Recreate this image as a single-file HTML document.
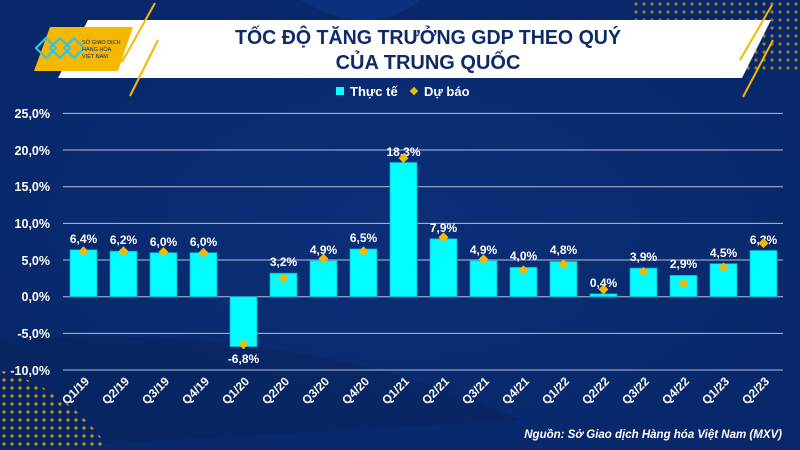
<!DOCTYPE html>
<html><head><meta charset="utf-8"><style>
html,body{margin:0;padding:0;width:800px;height:450px;overflow:hidden;background:#0a2a6e}
svg{display:block;font-family:"Liberation Sans",sans-serif}
</style></head><body>
<svg width="800" height="450" viewBox="0 0 800 450" xmlns="http://www.w3.org/2000/svg">
<defs>
<radialGradient id="bg" cx="0.5" cy="0.5" r="0.8"><stop offset="0" stop-color="#0b2f78"/><stop offset="1" stop-color="#082566"/></radialGradient>
<pattern id="dots" width="8" height="8" patternUnits="userSpaceOnUse"><circle cx="4" cy="4" r="1.6" fill="#f5b800"/></pattern>
</defs>
<rect width="800" height="450" fill="url(#bg)"/>
<path d="M0 340 Q300 320 520 420 L0 450Z" fill="#07215a" opacity="0.5"/>
<path d="M0 370 L0 450 L110 450 Q70 390 0 370Z" fill="url(#dots)" opacity="0.8"/>
<path d="M300 0 Q370 40 420 0Z" fill="#0d3a8c" opacity="0.5"/>
<rect x="630" y="0" width="170" height="70" fill="url(#dots)" opacity="0.6"/>
<!-- banner -->
<polygon points="88,20 771,20 742,78 58,78" fill="#ffffff"/>
<polygon points="50,27 133,27 118,71 34,71" fill="#f5b800"/>
<g fill="none" stroke="#2fc4e8" stroke-width="2.2">
<path d="M36 48 L46 38 L56 48 L46 58Z"/><path d="M50 48 L60 38 L70 48 L60 58Z"/><path d="M64 48 L74 38 L84 48 L74 58Z"/>
</g>
<text x="82" y="44" font-size="5.5" fill="#0a2a6e">SỞ GIAO DỊCH</text>
<text x="82" y="51" font-size="5.5" fill="#0a2a6e">HÀNG HÓA</text>
<text x="82" y="58" font-size="5.5" fill="#0a2a6e">VIỆT NAM</text>
<g stroke="#f5b800" stroke-width="2"><line x1="155" y1="3" x2="122" y2="62"/><line x1="158" y1="40" x2="130" y2="96"/><line x1="772" y1="5" x2="740" y2="60"/><line x1="773" y1="40" x2="743" y2="97"/></g>
<g font-weight="bold" font-size="20" fill="#0d2a6b" text-anchor="middle">
<text x="428" y="44" textLength="386" lengthAdjust="spacingAndGlyphs">TỐC ĐỘ TĂNG TRƯỞNG GDP THEO QUÝ</text>
<text x="428" y="69">CỦA TRUNG QUỐC</text>
</g>
<!-- legend -->
<rect x="336" y="87" width="8" height="8" fill="#00ffff"/>
<text x="350" y="96" font-size="13" font-weight="bold" fill="#fff">Thực tế</text>
<rect x="411" y="88" width="6" height="6" fill="#f5b800" transform="rotate(45 414 91)"/>
<text x="424" y="96" font-size="13" font-weight="bold" fill="#fff">Dự báo</text>
<!-- grid -->
<g stroke="#b8bfd0" stroke-width="1">
<line x1="63" y1="113.4" x2="783" y2="113.4"/><line x1="63" y1="150" x2="783" y2="150"/><line x1="63" y1="186.7" x2="783" y2="186.7"/><line x1="63" y1="223.4" x2="783" y2="223.4"/><line x1="63" y1="260" x2="783" y2="260"/><line x1="63" y1="296.7" x2="783" y2="296.7"/><line x1="63" y1="333.4" x2="783" y2="333.4"/><line x1="63" y1="370" x2="783" y2="370"/>
</g>
<g font-size="12.5" font-weight="bold" fill="#fff" text-anchor="end">
<text x="50" y="118">25,0%</text><text x="50" y="155">20,0%</text><text x="50" y="191">15,0%</text><text x="50" y="228">10,0%</text><text x="50" y="265">5,0%</text><text x="50" y="301">0,0%</text><text x="50" y="338">-5,0%</text><text x="50" y="375">-10,0%</text>
</g>
<!-- bars -->
<g fill="#00ffff" stroke="#0aa8c8" stroke-width="0.8">
<rect x="70" y="249.8" width="27" height="46.9"/>
<rect x="110" y="251.2" width="27" height="45.5"/>
<rect x="150" y="252.7" width="27" height="44"/>
<rect x="190" y="252.7" width="27" height="44"/>
<rect x="230" y="296.7" width="27" height="49.9"/>
<rect x="270" y="273.2" width="27" height="23.5"/>
<rect x="310" y="260.8" width="27" height="35.9"/>
<rect x="350" y="249" width="27" height="47.7"/>
<rect x="390" y="162.5" width="27" height="134.2"/>
<rect x="430" y="238.8" width="27" height="57.9"/>
<rect x="470" y="260.8" width="27" height="35.9"/>
<rect x="510" y="267.4" width="27" height="29.3"/>
<rect x="550" y="261.5" width="27" height="35.2"/>
<rect x="590" y="293.8" width="27" height="2.9"/>
<rect x="630" y="268.1" width="27" height="28.6"/>
<rect x="670" y="275.4" width="27" height="21.3"/>
<rect x="710" y="263.7" width="27" height="33"/>
<rect x="750" y="250.5" width="27" height="46.2"/>
</g>
<!-- labels -->
<g font-size="12" font-weight="bold" fill="#fff" text-anchor="middle">
<text x="83.5" y="243">6,4%</text><text x="123.5" y="244">6,2%</text><text x="163.5" y="246">6,0%</text><text x="203.5" y="246">6,0%</text>
<text x="243.5" y="363">-6,8%</text><text x="283.5" y="266">3,2%</text><text x="323.5" y="254">4,9%</text><text x="363.5" y="242">6,5%</text>
<text x="403.5" y="156">18,3%</text><text x="443.5" y="232">7,9%</text><text x="483.5" y="254">4,9%</text><text x="523.5" y="260">4,0%</text>
<text x="563.5" y="254">4,8%</text><text x="603.5" y="287">0,4%</text><text x="643.5" y="261">3,9%</text><text x="683.5" y="268">2,9%</text>
<text x="723.5" y="257">4,5%</text><text x="763.5" y="244">6,3%</text>
</g>
<!-- diamonds -->
<g fill="#f5b800">
<rect x="-3.5" y="-3.5" width="7" height="7" transform="translate(83.5 251.2) rotate(45)"/>
<rect x="-3.5" y="-3.5" width="7" height="7" transform="translate(123.5 251.2) rotate(45)"/>
<rect x="-3.5" y="-3.5" width="7" height="7" transform="translate(163.5 252) rotate(45)"/>
<rect x="-3.5" y="-3.5" width="7" height="7" transform="translate(203.5 252.7) rotate(45)"/>
<rect x="-3.5" y="-3.5" width="7" height="7" transform="translate(243.5 344.4) rotate(45)"/>
<rect x="-3.5" y="-3.5" width="7" height="7" transform="translate(283.5 278.4) rotate(45)"/>
<rect x="-3.5" y="-3.5" width="7" height="7" transform="translate(323.5 258.6) rotate(45)"/>
<rect x="-3.5" y="-3.5" width="7" height="7" transform="translate(363.5 251.2) rotate(45)"/>
<rect x="-3.5" y="-3.5" width="7" height="7" transform="translate(403.5 158.1) rotate(45)"/>
<rect x="-3.5" y="-3.5" width="7" height="7" transform="translate(443.5 237.3) rotate(45)"/>
<rect x="-3.5" y="-3.5" width="7" height="7" transform="translate(483.5 259.3) rotate(45)"/>
<rect x="-3.5" y="-3.5" width="7" height="7" transform="translate(523.5 270.3) rotate(45)"/>
<rect x="-3.5" y="-3.5" width="7" height="7" transform="translate(563.5 264.4) rotate(45)"/>
<rect x="-3.5" y="-3.5" width="7" height="7" transform="translate(603.5 289.4) rotate(45)"/>
<rect x="-3.5" y="-3.5" width="7" height="7" transform="translate(643.5 271.8) rotate(45)"/>
<rect x="-3.5" y="-3.5" width="7" height="7" transform="translate(683.5 283.5) rotate(45)"/>
<rect x="-3.5" y="-3.5" width="7" height="7" transform="translate(723.5 267.4) rotate(45)"/>
<rect x="-3.5" y="-3.5" width="7" height="7" transform="translate(763.5 243.2) rotate(45)"/>
</g>
<!-- x labels -->
<g font-size="12" font-weight="bold" fill="#fff" text-anchor="end">
<text transform="translate(90 382) rotate(-45)">Q1/19</text>
<text transform="translate(130 382) rotate(-45)">Q2/19</text>
<text transform="translate(170 382) rotate(-45)">Q3/19</text>
<text transform="translate(210 382) rotate(-45)">Q4/19</text>
<text transform="translate(250 382) rotate(-45)">Q1/20</text>
<text transform="translate(290 382) rotate(-45)">Q2/20</text>
<text transform="translate(330 382) rotate(-45)">Q3/20</text>
<text transform="translate(370 382) rotate(-45)">Q4/20</text>
<text transform="translate(410 382) rotate(-45)">Q1/21</text>
<text transform="translate(450 382) rotate(-45)">Q2/21</text>
<text transform="translate(490 382) rotate(-45)">Q3/21</text>
<text transform="translate(530 382) rotate(-45)">Q4/21</text>
<text transform="translate(570 382) rotate(-45)">Q1/22</text>
<text transform="translate(610 382) rotate(-45)">Q2/22</text>
<text transform="translate(650 382) rotate(-45)">Q3/22</text>
<text transform="translate(690 382) rotate(-45)">Q4/22</text>
<text transform="translate(730 382) rotate(-45)">Q1/23</text>
<text transform="translate(770 382) rotate(-45)">Q2/23</text>
</g>
<text x="782" y="438" font-size="11.5" font-weight="bold" font-style="italic" fill="#fff" text-anchor="end">Nguồn: Sở Giao dịch Hàng hóa Việt Nam (MXV)</text>
</svg>
</body></html>
